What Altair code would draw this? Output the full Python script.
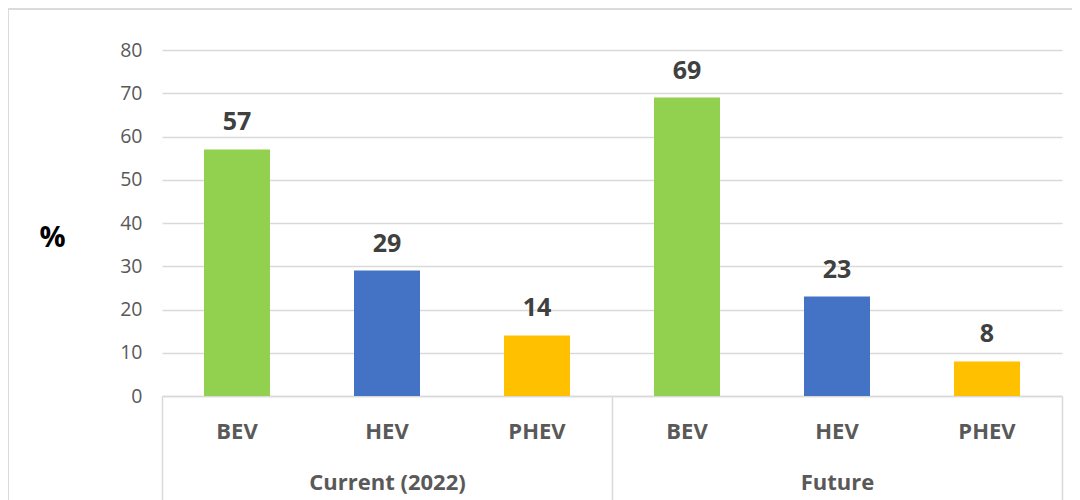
import altair as alt
import pandas as pd

groups = ["Current (2022)", "Current (2022)", "Current (2022)", "Future", "Future", "Future"]
types = ["BEV", "HEV", "PHEV", "BEV", "HEV", "PHEV"]
values = [57, 29, 14, 69, 23, 8]
colors = ["#92D050", "#4472C4", "#FFC000"]
type_order = ["BEV", "HEV", "PHEV"]
group_order = ["Current (2022)", "Future"]
y_ticks = [0, 10, 20, 30, 40, 50, 60, 70, 80]

keys = [g + "|" + t for g, t in zip(groups, types)]
df = pd.DataFrame({"key": keys, "group": groups, "type": types, "value": values})
gdf = pd.DataFrame({"group": group_order})

FONT = "Open Sans"
GRID = "#d9d9d9"
LABEL = "#595959"

xscale = alt.Scale(paddingInner=0.56, paddingOuter=0.28)

xenc = alt.X(
    "key:N",
    sort=keys,
    scale=xscale,
    axis=alt.Axis(
        title=None,
        orient="bottom",
        labelExpr="split(datum.label, '|')[1]",
        labelAngle=0,
        labelFont=FONT,
        labelFontSize=22,
        labelFontWeight="bold",
        labelColor=LABEL,
        labelBaseline="middle",
        labelPadding=35,
        ticks=False,
        grid=False,
        domain=True,
        domainColor=GRID,
        domainWidth=1.5,
    ),
)

yenc = alt.Y(
    "value:Q",
    scale=alt.Scale(domain=[0, 80]),
    axis=alt.Axis(
        values=y_ticks,
        title="%",
        titleAngle=0,
        titleX=-110,
        titleY=187,
        titleAlign="center",
        titleBaseline="middle",
        titleFont=FONT,
        titleFontSize=29,
        titleFontWeight="bold",
        titleColor="#000000",
        labelFont=FONT,
        labelFontSize=19.5,
        labelColor=LABEL,
        labelPadding=20,
        ticks=False,
        domain=False,
        grid=True,
        gridColor=GRID,
        gridWidth=1.5,
    ),
)

nostroke = alt.ViewBackground(stroke="transparent", strokeWidth=0)

frame = alt.Chart(gdf).mark_rect(fill=None, stroke=GRID, strokeWidth=1.5).encode(
    x=alt.value(-154), x2=alt.value(1100), y=alt.value(-41), y2=alt.value(700)
).properties(view=nostroke)

bars = alt.Chart(df).mark_bar().encode(
    x=xenc,
    y=yenc,
    color=alt.Color("type:N", scale=alt.Scale(domain=type_order, range=colors), legend=None),
).properties(view=nostroke)

texts = alt.Chart(df).mark_text(
    dy=-19, baseline="alphabetic", font=FONT, fontSize=25, fontWeight="bold", color="#404040"
).encode(
    x=alt.X("key:N", sort=keys, scale=xscale, axis=None),
    y="value:Q",
    text="value:Q",
).properties(view=nostroke)

grp = alt.Chart(gdf).mark_text(opacity=0, text="").encode(
    x=alt.X(
        "group:N",
        sort=group_order,
        scale=alt.Scale(paddingInner=0, paddingOuter=0),
        axis=alt.Axis(
            title=None,
            orient="bottom",
            labelAngle=0,
            labelFont=FONT,
            labelFontSize=22,
            labelFontWeight="bold",
            labelColor=LABEL,
            labelBaseline="middle",
            labelPadding=-24,
            ticks=True,
            grid=False,
            tickBand="extent",
            tickSize=110,
            tickColor=GRID,
            tickWidth=1.5,
            domain=False,
        ),
    ),
    y=alt.value(0),
).properties(view=nostroke)

chart = (
    alt.layer(frame, bars, texts, grp)
    .resolve_scale(x="independent")
    .resolve_axis(x="independent")
    .properties(
        width=900,
        height=346,
        autosize="none",
        padding={"left": 154, "top": 42, "right": 10, "bottom": 104},
        view=nostroke,
    )
    .configure_view(stroke="transparent", strokeWidth=0)
    .configure(background="white")
)

chart.save("out.html", embed_options={"renderer": "svg", "actions": False})
